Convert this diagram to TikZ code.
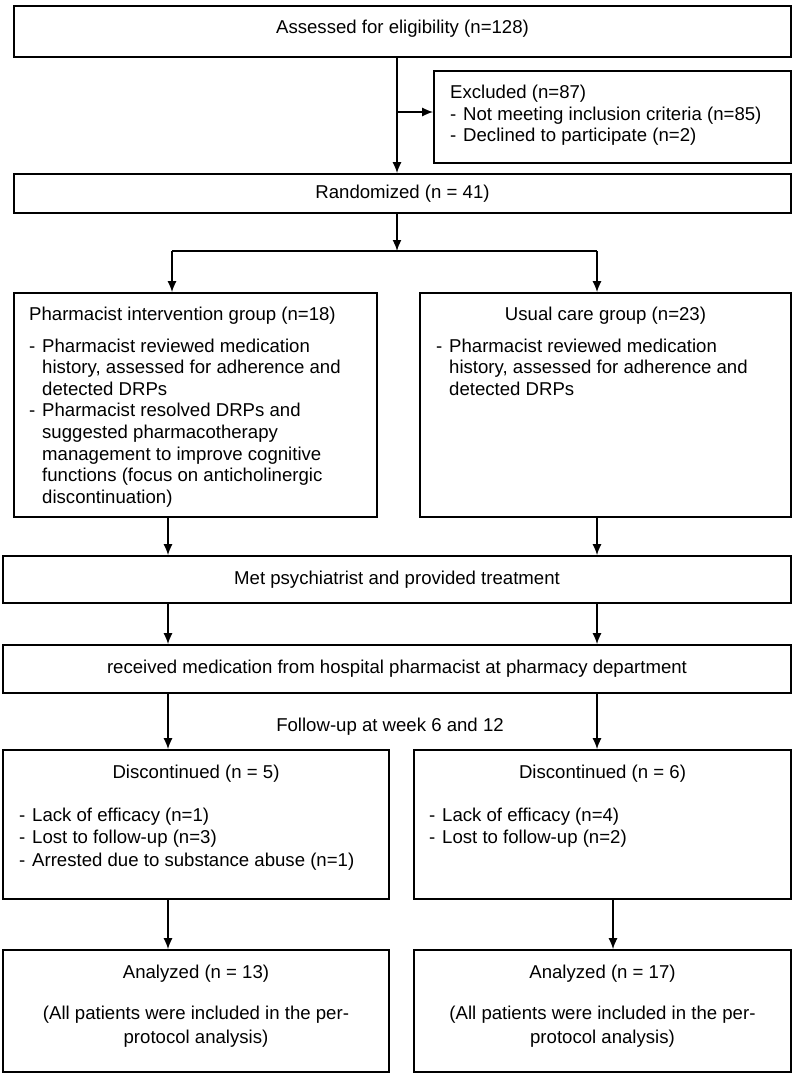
\documentclass[tikz,border=0pt]{standalone}
\usepackage{fontspec}
\setmainfont{Liberation Sans}
\usepackage{array}
\usetikzlibrary{arrows.meta}

\newcommand{\fsz}{\fontsize{18.6}{21.6}\selectfont}

\begin{document}
\begin{tikzpicture}[x=1pt, y=-1pt, >={Latex[length=11pt,width=9pt]},
    box/.style={rectangle, draw, line width=1.6pt, inner sep=0pt, font=\fsz},
    txt/.style={inner sep=0pt, font=\fsz, anchor=base west},
    line/.style={draw, ->, line width=1.6pt}]

    \useasboundingbox (0,0) rectangle (793,1073);

    % Enrollment
    \node [box, minimum width=777, minimum height=51, text height=13.5pt, text depth=9.5pt] (assess) at (402.5,31.5) {Assessed for eligibility (n=128)};
    \node [box, minimum width=357, minimum height=92] (excl) at (612.5,117) {};
    \node [txt] (excltxt) at (450,98.5) {\begin{tabular}[t]{@{}l@{\hspace{6.8pt}}l@{}}
        \multicolumn{2}{@{}l@{}}{Excluded (n=87)}\\
        - & Not meeting inclusion criteria (n=85)\\
        - & Declined to participate (n=2)
    \end{tabular}};
    \node [box, minimum width=777, minimum height=39] (random) at (402.5,193.5) {Randomized (n = 41)};

    % Allocation
    \node [box, minimum width=363, minimum height=224] (grpA) at (195.5,405) {};
    \node [txt] (grpAtxt) at (29,320) {\begin{tabular}[t]{@{}l@{\hspace{6.8pt}}l@{}}
        \multicolumn{2}{@{}l@{}}{Pharmacist intervention group (n=18)}\\[10.4pt]
        - & Pharmacist reviewed medication\\
          & history, assessed for adherence and\\
          & detected DRPs\\
        - & Pharmacist resolved DRPs and\\
          & suggested pharmacotherapy\\
          & management to improve cognitive\\
          & functions (focus on anticholinergic\\
          & discontinuation)
    \end{tabular}};
    \node [box, minimum width=371, minimum height=224] (grpB) at (605.5,405) {};
    \node [txt, anchor=base] (grpBhead) at (605.5,320) {Usual care group (n=23)};
    \node [txt] (grpBtxt) at (436,352) {\begin{tabular}[t]{@{}l@{\hspace{6.8pt}}l@{}}
        - & Pharmacist reviewed medication\\
          & history, assessed for adherence and\\
          & detected DRPs
    \end{tabular}};

    % Treatment
    \node [box, minimum width=788, minimum height=47] (met) at (397,579.5) {Met psychiatrist and provided treatment};
    \node [box, minimum width=788, minimum height=48] (recv) at (397,669) {received medication from hospital pharmacist at pharmacy department};
    \node [txt, anchor=base] (follow) at (390,731) {Follow-up at week 6 and 12};

    % Follow-up
    \node [box, minimum width=386, minimum height=149] (discA) at (196,824.5) {};
    \node [txt, anchor=base] (discAhead) at (196,778) {Discontinued (n = 5)};
    \node [txt] (discAtxt) at (19,821) {\begin{tabular}[t]{@{}l@{\hspace{6.8pt}}l@{}}
        - & Lack of efficacy (n=1)\\[0.9pt]
        - & Lost to follow-up (n=3)\\[0.9pt]
        - & Arrested due to substance abuse (n=1)
    \end{tabular}};
    \node [box, minimum width=377, minimum height=149] (discB) at (602.5,824.5) {};
    \node [txt, anchor=base] (discBhead) at (602.5,778) {Discontinued (n = 6)};
    \node [txt] (discBtxt) at (429,821) {\begin{tabular}[t]{@{}l@{\hspace{6.8pt}}l@{}}
        - & Lack of efficacy (n=4)\\[0.9pt]
        - & Lost to follow-up (n=2)
    \end{tabular}};

    % Analysis
    \node [box, minimum width=386, minimum height=122] (anA) at (196,1011) {};
    \node [txt, anchor=base] (anAtxt) at (196,978) {\begin{tabular}[t]{@{}c@{}}
        Analyzed (n = 13)\\[19.4pt]
        (All patients were included in the per-\\[2.4pt]
        protocol analysis)
    \end{tabular}};
    \node [box, minimum width=377, minimum height=122] (anB) at (602.5,1011) {};
    \node [txt, anchor=base] (anBtxt) at (602.5,978) {\begin{tabular}[t]{@{}c@{}}
        Analyzed (n = 17)\\[19.4pt]
        (All patients were included in the per-\\[2.4pt]
        protocol analysis)
    \end{tabular}};

    % Paths
    \coordinate (split) at (397,251);
    \coordinate (exbr) at (397,112);
    \coordinate (brL) at (172,251);
    \coordinate (brR) at (597,251);
    \coordinate (colL) at (168,0);
    \coordinate (colR) at (597,0);
    \coordinate (colR2) at (613,0);

    \path [line] (assess.south -| split) -- (random.north -| split);
    \path [line] (exbr) -- (excl.west |- exbr);
    \path [line] (random.south -| split) -- (split);
    \draw [line width=1.6pt] (brL) -- (brR);
    \path [line] (brL) -- (grpA.north -| brL);
    \path [line] (brR) -- (grpB.north -| brR);
    \path [line] (grpA.south -| colL) -- (met.north -| colL);
    \path [line] (grpB.south -| colR) -- (met.north -| colR);
    \path [line] (met.south -| colL) -- (recv.north -| colL);
    \path [line] (met.south -| colR) -- (recv.north -| colR);
    \path [line] (recv.south -| colL) -- (discA.north -| colL);
    \path [line] (recv.south -| colR) -- (discB.north -| colR);
    \path [line] (discA.south -| colL) -- (anA.north -| colL);
    \path [line] (discB.south -| colR2) -- (anB.north -| colR2);
\end{tikzpicture}
\end{document}
